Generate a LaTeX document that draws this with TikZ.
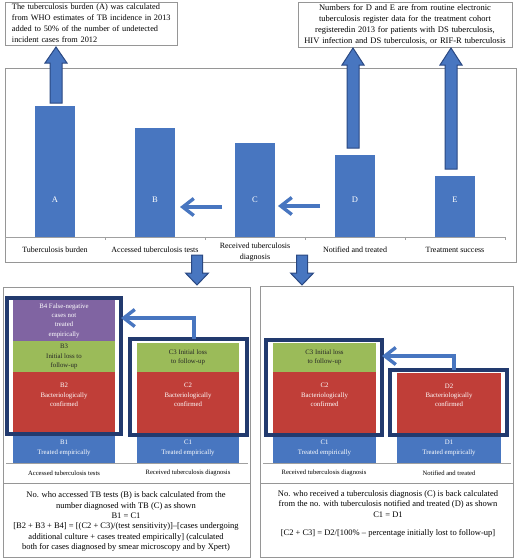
\documentclass[tikz,border=0pt]{standalone}
\usepackage{fontspec}
\setmainfont{Liberation Serif}
\usetikzlibrary{arrows.meta}
\definecolor{barblue}{RGB}{72,118,192}
\definecolor{arrowedge}{RGB}{42,72,130}
\definecolor{redc}{RGB}{192,62,56}
\definecolor{greenc}{RGB}{155,187,89}
\definecolor{purplec}{RGB}{128,100,162}
\definecolor{navyc}{RGB}{34,58,110}
\definecolor{boxgray}{RGB}{150,150,150}
\definecolor{axisgray}{RGB}{160,160,160}
\newcommand{\myuparrow}[4]{%
  \filldraw[blockarr] (#1-6,#4) -- (#1-6,#3) -- (#1-11,#3) -- (#1,#2) -- (#1+11,#3) -- (#1+6,#3) -- (#1+6,#4) -- cycle;}
\newcommand{\mydownarrow}[4]{%
  \filldraw[blockarr] (#1-5.5,#4) -- (#1-5.5,#3) -- (#1-11.5,#3) -- (#1,#2) -- (#1+11.5,#3) -- (#1+5.5,#3) -- (#1+5.5,#4) -- cycle;}
\begin{document}
\begin{tikzpicture}[x=1pt,y=-1pt,
  gbox/.style={draw=boxgray, line width=0.8pt, fill=white, inner sep=0pt, outer sep=0pt},
  bar/.style={fill=barblue, draw=none, inner sep=0pt, outer sep=0pt, minimum width=40pt, anchor=south},
  barlab/.style={text=white, font=\fontsize{8.5}{10}\selectfont},
  catlab/.style={align=center, font=\fontsize{8}{11}\selectfont},
  smalllab/.style={align=center, font=\fontsize{6.6}{9.3}\selectfont},
  seg/.style={inner sep=0pt, outer sep=0pt, draw=none, anchor=north west, text=white, align=center, font=\fontsize{6.8}{9.3}\selectfont},
  outl/.style={draw=navyc, line width=3.2pt, inner sep=0pt, outer sep=0pt, anchor=north west},
  chev/.style={draw=barblue, line width=3.4pt, -{Straight Barb[length=11pt,width=17pt]}},
  blockarr/.style={fill=barblue, draw=arrowedge, line width=1pt},
  bodytext/.style={align=center, font=\fontsize{8.5}{10.3}\selectfont}
]
\useasboundingbox (0,0) rectangle (520,560);

% chart frame
\node[gbox, anchor=north west, minimum width=511pt, minimum height=194pt] (chart) at (5,68) {};

% top boxes
\node[gbox, anchor=north west, minimum width=172pt, minimum height=43pt, text width=166pt, inner xsep=3pt, align=left, font=\fontsize{8.3}{11}\selectfont] (tbl) at (5,2)
  {\hspace*{4pt}The tuberculosis burden (A) was calculated\\\hspace*{4pt}from WHO estimates of TB incidence in 2013\\\hspace*{4pt}added to 50\% of the number of undetected\\\hspace*{4pt}incident cases from 2012};
\node[gbox, anchor=north west, minimum width=214pt, minimum height=45pt, text width=212pt, inner xsep=1pt, align=center, font=\fontsize{8.5}{11}\selectfont] (tbr) at (298,2)
  {Numbers for D and E are from routine electronic\\tuberculosis register data for the treatment cohort\\registeredin 2013 for patients with DS tuberculosis,\\HIV infection and DS tuberculosis, or RIF-R tuberculosis};

% axis
\coordinate (ax0) at (5,237);
\coordinate (ax1) at (505,237);
\draw[axisgray, line width=0.7pt] (ax0) -- (ax1);
\foreach \x in {5,105,205,305,405,505} \draw[axisgray, line width=0.7pt] (\x,237) -- (\x,240);

% bars
\node[bar, minimum height=131pt] (A) at (55,237) {};
\node[bar, minimum height=109pt] (B) at (155,237) {};
\node[bar, minimum height=94pt] (C) at (255,237) {};
\node[bar, minimum height=82pt] (D) at (355,237) {};
\node[bar, minimum height=61pt] (E) at (455,237) {};
\node[barlab] (lA) at (55,200) {A};
\node[barlab] (lB) at (155,200) {B};
\node[barlab] (lC) at (255,200) {C};
\node[barlab] (lD) at (355,200) {D};
\node[barlab] (lE) at (455,200) {E};

% category labels
\node[catlab] (cA) at (55,250) {Tuberculosis burden};
\node[catlab] (cB) at (155,250) {Accessed tuberculosis tests};
\node[catlab] (cC) at (255,252.5) {Received tuberculosis\\diagnosis};
\node[catlab] (cD) at (355,250) {Notified and treated};
\node[catlab] (cE) at (455,250) {Treatment success};

% chart left arrows
\coordinate (cs) at (222,207);
\coordinate (ce) at (180,207);
\coordinate (ds) at (320,206);
\coordinate (de) at (278,206);
\draw[chev] (cs) -- (ce);
\draw[chev] (ds) -- (de);

% up block arrows
\myuparrow{56}{47}{63}{103}
\myuparrow{353}{48}{65}{148}
\myuparrow{451}{48}{65}{169}

% bottom panels
\node[gbox, anchor=north west, minimum width=247pt, minimum height=270pt] (pL) at (3,287) {};
\node[gbox, anchor=north west, minimum width=253pt, minimum height=271pt] (pR) at (260,286) {};

% down block arrows
\mydownarrow{197}{285}{273}{255}
\mydownarrow{302}{285}{273}{255}

\coordinate (dv) at (0,483);
\draw[boxgray, line width=0.8pt] (pL.west |- dv) -- (pL.east |- dv);
\draw[boxgray, line width=0.8pt] (pR.west |- dv) -- (pR.east |- dv);
\coordinate (bl) at (0,463);
\draw[axisgray, line width=0.6pt] ([xshift=3pt]pL.west |- bl) -- ([xshift=-2pt]pL.east |- bl);
\draw[axisgray, line width=0.6pt] ([xshift=3pt]pR.west |- bl) -- ([xshift=-2pt]pR.east |- bl);

% left panel stacks
\node[seg, fill=purplec, minimum width=102pt, minimum height=41pt] (B4) at (13,300) {B4 False-negative\\cases not\\treated\\empirically};
\node[seg, fill=greenc, minimum width=102pt, minimum height=31pt, text=black!85] (B3) at (13,341) {B3\\Initial loss to\\follow-up};
\node[seg, fill=redc, minimum width=102pt, minimum height=61pt] (B2) at (13,372) {B2\\Bacteriologically\\confirmed\\[6pt]};
\node[seg, fill=barblue, minimum width=102pt, minimum height=30pt] (B1) at (13,433) {B1\\Treated empirically};

\node[seg, fill=greenc, minimum width=102pt, minimum height=29pt, text=black!85] (LC3) at (137,343) {C3 Initial loss\\to follow-up};
\node[seg, fill=redc, minimum width=102pt, minimum height=61pt] (LC2) at (137,372) {C2\\Bacteriologically\\confirmed\\[6pt]};
\node[seg, fill=barblue, minimum width=102pt, minimum height=30pt] (LC1) at (137,433) {C1\\Treated empirically};

\node[outl, minimum width=114pt, minimum height=136pt] (Bout) at (7,298) {};
\node[outl, minimum width=117pt, minimum height=96pt] (LCout) at (130,339) {};

\coordinate (pa) at (194,318);
\draw[chev] (LCout.north -| pa) -- (pa) -- (Bout.east |- pa);

\node[smalllab] (lb1) at (64,473) {Accessed tuberculosis tests};
\node[smalllab] (lb2) at (188,473) {Received tuberculosis diagnosis};

% right panel stacks
\node[seg, fill=greenc, minimum width=103pt, minimum height=29pt, text=black!85] (RC3) at (273,343) {C3 Initial loss\\to follow-up};
\node[seg, fill=redc, minimum width=103pt, minimum height=61pt] (RC2) at (273,372) {C2\\Bacteriologically\\confirmed\\[6pt]};
\node[seg, fill=barblue, minimum width=103pt, minimum height=30pt] (RC1) at (273,433) {C1\\Treated empirically};

\node[seg, fill=redc, minimum width=104pt, minimum height=60pt] (D2) at (397,373) {D2\\Bacteriologically\\confirmed\\[6pt]};
\node[seg, fill=barblue, minimum width=104pt, minimum height=30pt] (D1) at (397,433) {D1\\Treated empirically};

\node[outl, minimum width=116pt, minimum height=95pt] (RCout) at (266,340) {};
\node[outl, minimum width=117pt, minimum height=65pt] (Dout) at (390,370) {};

\coordinate (pb) at (454,356);
\draw[chev] (Dout.north -| pb) -- (pb) -- (RCout.east |- pb);

\node[smalllab] (rb1) at (324,473) {Received tuberculosis diagnosis};
\node[smalllab] (rb2) at (449,473) {Notified and treated};

% bottom texts
\node[bodytext] (txL) at (126,521.5) {No. who accessed TB tests (B) is back calculated from the\\number diagnosed with TB (C) as shown\\B1 = C1\\{[B2 + B3 + B4] = [(C2 + C3)/(test sensitivity)]–[cases undergoing}\\additional culture + cases treated empirically] (calculated\\both for cases diagnosed by smear microscopy and by Xpert)};
\node[bodytext] (txR) at (388,514) {No. who received a tuberculosis diagnosis (C) is back calculated\\from the no. with tuberculosis notified and treated (D) as shown\\C1 = D1\\[8pt]{[C2 + C3] = D2/[100\% – percentage initially lost to follow-up]}};
\end{tikzpicture}
\end{document}
